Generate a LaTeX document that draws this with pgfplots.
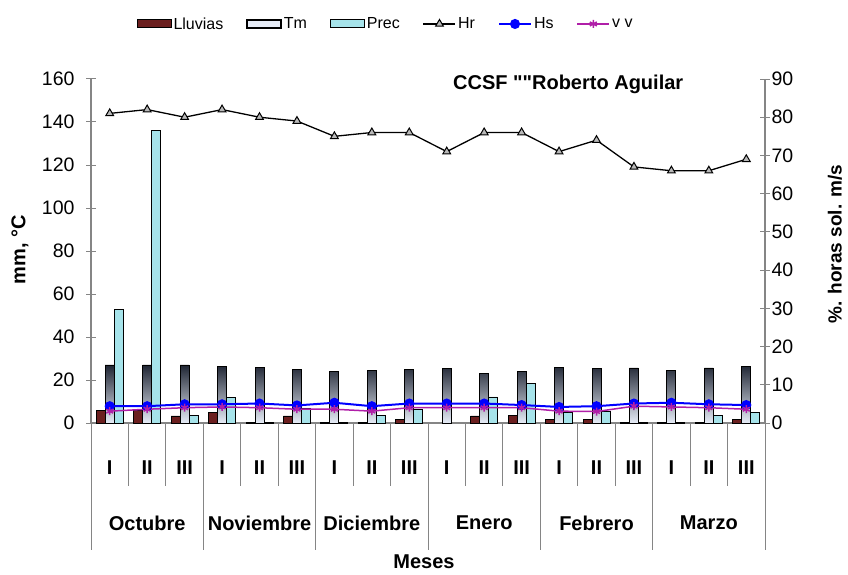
\documentclass[border=0pt]{standalone}
\usepackage{fontspec}
\setmainfont{Liberation Sans}
\newfontfamily\rawfont{Liberation Sans}[Ligatures=TeXOff]
\usepackage{pgfplots}
\pgfplotsset{compat=1.18}
\definecolor{lluv}{HTML}{6B1F1F}
\definecolor{prec}{HTML}{A6E3EA}
\definecolor{tmdark}{HTML}{1F2533}
\definecolor{tmlight}{HTML}{E6ECF7}
\definecolor{vvcol}{HTML}{B01FA8}
\definecolor{axgray}{HTML}{858585}
\newcommand{\tickfont}{\fontsize{19.5}{22}\selectfont}
\newcommand{\boldfont}{\fontsize{20}{24}\selectfont\bfseries}
\newcommand{\legfont}{\fontsize{16}{19}\selectfont}

\pgfplotstableread{
x lluv tm prec hr hs vv
0 6.0 27.0 53.0 81 4.4 3.1
1 6.0 27.0 136.0 82 4.4 3.6
2 3.3 27.0 3.7 80 4.9 4.0
3 4.8 26.5 12.0 82 4.9 4.2
4 0.3 26.0 0.3 80 5.1 4.0
5 3.3 25.0 7.0 79 4.6 3.6
6 0.3 24.0 0.3 75 5.3 3.6
7 0.3 24.5 3.7 76 4.4 3.1
8 1.7 25.0 6.4 76 5.1 4.0
9 nan 25.3 nan 71 5.1 4.0
10 3.3 23.2 12.1 76 5.1 4.0
11 3.7 24.0 18.3 76 4.7 4.0
12 1.7 25.8 4.8 71 4.2 3.1
13 1.7 25.2 5.3 74 4.4 3.0
14 0.3 25.6 0.3 67 5.1 4.4
15 0.3 24.5 0.3 66 5.3 4.2
16 0.3 25.6 3.7 66 4.9 4.0
17 1.7 26.3 4.8 69 4.7 3.6
}\datatable

\begin{document}
\begin{tikzpicture}
\useasboundingbox (0pt,0pt) rectangle (848pt,574pt);

% separators and month labels
\begin{axis}[
  at={(91pt,151pt)}, anchor=south west,
  scale only axis, width=674pt, height=344pt,
  xmin=-0.5, xmax=17.5, ymin=0, ymax=1,
  axis y line=none, axis x line*=bottom,
  x axis line style={draw=none},
  xtick={-0.5,2.5,5.5,8.5,11.5,14.5,17.5}, xticklabels={},
  minor xtick={0.5,1.5,3.5,4.5,6.5,7.5,9.5,10.5,12.5,13.5,15.5,16.5},
  major tick length=127pt, minor tick length=63pt, tick align=outside,
  tick style={axgray, line width=1pt},
  clip=false,
]
\addplot[draw=none] coordinates {(0,0)};
\node[font=\boldfont] at (axis cs:1,0) [yshift=-100pt] {Octubre};
\node[font=\boldfont] at (axis cs:4,0) [yshift=-100pt] {Noviembre};
\node[font=\boldfont] at (axis cs:7,0) [yshift=-100pt] {Diciembre};
\node[font=\boldfont] at (axis cs:10,0) [yshift=-100pt] {Enero};
\node[font=\boldfont] at (axis cs:13,0) [yshift=-100pt] {Febrero};
\node[font=\boldfont] at (axis cs:16,0) [yshift=-100pt] {Marzo};
\node[font=\boldfont] at ([yshift=-139pt]rel axis cs:0.494,0) {Meses};
\node[font=\boldfont, rotate=90] at ([xshift=-71pt]rel axis cs:0,0.503) {mm, °C};
\node[font=\fontsize{19}{22}\selectfont\bfseries, rotate=90] at ([xshift=70pt]rel axis cs:1,0.52) {\%. horas sol. m/s};
\node[font=\rawfont\fontsize{20}{24}\selectfont\bfseries] at (rel axis cs:0.708,0.985) {CCSF ""Roberto Aguilar};
\end{axis}

% left axis: bars
\begin{axis}[
  at={(91pt,151pt)}, anchor=south west,
  scale only axis, width=674pt, height=344pt,
  xmin=-0.5, xmax=17.5, ymin=0, ymax=160,
  axis y line*=left, axis x line*=bottom,
  axis line style={axgray, line width=1.2pt},
  ytick={0,20,...,160}, tick align=center, major tick length=10pt,
  ytick style={axgray, line width=1pt},
  xtick={0,...,17},
  xticklabels={I,II,III,I,II,III,I,II,III,I,II,III,I,II,III,I,II,III},
  xtick style={draw=none},
  xticklabel style={font=\boldfont, anchor=center, yshift=-35pt},
  yticklabel style={font=\tickfont, xshift=-8pt},
  /pgf/number format/assume math mode=true,
  ybar, bar width=9pt,
]
\addplot[ybar, bar shift=-9pt, draw=black, line width=0.8pt, fill=lluv] table[x=x, y=lluv] {\datatable};
\addplot[ybar, bar shift=0pt, draw=black, line width=0.8pt, top color=tmdark, bottom color=tmlight] table[x=x, y=tm] {\datatable};
\addplot[ybar, bar shift=9pt, draw=black, line width=0.8pt, fill=prec] table[x=x, y=prec] {\datatable};
\end{axis}

% right axis: lines
\begin{axis}[
  at={(91pt,151pt)}, anchor=south west,
  scale only axis, width=674pt, height=344pt,
  xmin=-0.5, xmax=17.5, ymin=0, ymax=90,
  axis y line*=right, axis x line=none,
  axis line style={axgray, line width=1.2pt},
  ytick={0,10,...,90}, tick align=center, major tick length=10pt,
  ytick style={axgray, line width=1pt},
  yticklabel style={font=\tickfont, xshift=-2pt},
  /pgf/number format/assume math mode=true,
  legend columns=6,
  legend style={at={(0.437,1.16)}, anchor=center, draw=none, fill=none,
    font=\legfont, /tikz/every even column/.append style={column sep=21pt}},
  legend image code/.code={\draw[mark repeat=2,mark phase=2,#1] plot coordinates {(0pt,0pt) (16pt,0pt) (32pt,0pt)};},
]
\addlegendimage{legend image code/.code={\draw[draw=black,fill=lluv,line width=1pt] (0pt,-4pt) rectangle (34pt,4pt);}}
\addlegendimage{legend image code/.code={\draw[draw=black,fill=tmlight,line width=1.5pt] (0pt,-4pt) rectangle (34pt,4pt);}}
\addlegendimage{legend image code/.code={\draw[draw=black,fill=prec,line width=1pt] (0pt,-4pt) rectangle (34pt,4pt);}}
\addplot[black, line width=1.3pt, mark=triangle*, mark size=4.5pt, mark options={fill=gray!55, draw=black, line width=1pt}] table[x=x, y=hr] {\datatable};
\addplot[blue, line width=2pt, mark=*, mark size=4pt, mark options={fill=blue, draw=blue}] table[x=x, y=hs] {\datatable};
\addplot[vvcol, line width=1.5pt, mark=asterisk, mark size=4pt] table[x=x, y=vv] {\datatable};
\legend{Lluvias,Tm,Prec,Hr,Hs,v v}
\end{axis}
\end{tikzpicture}
\end{document}
